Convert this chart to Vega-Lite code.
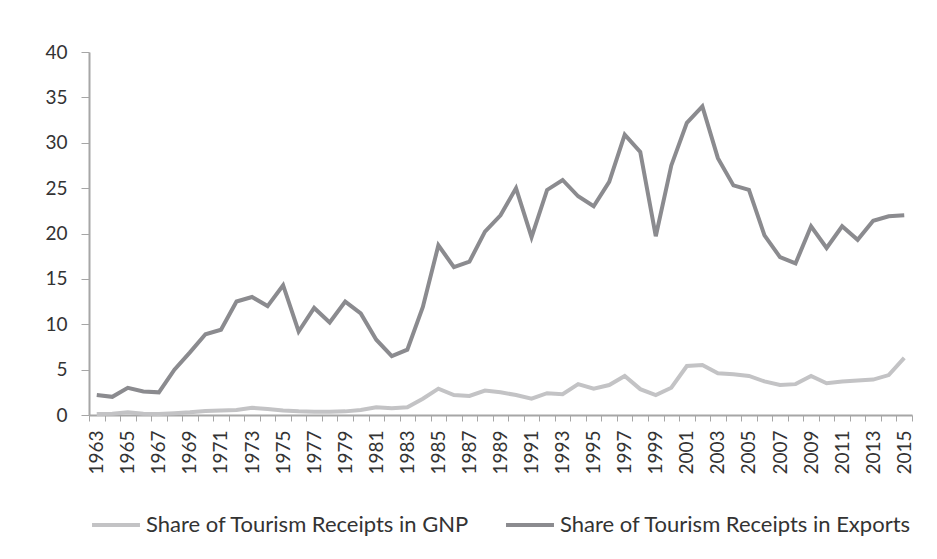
{
  "$schema": "https://vega.github.io/schema/vega-lite/v6.json",
  "width": 823,
  "height": 363,
  "padding": {"left": 44, "top": 43, "right": 20, "bottom": 10},
  "background": "white",
  "config": {
    "view": {"stroke": null},
    "font": "Lato",
    "legend": {"layout": {"bottom": {"anchor": "middle"}}},
    "axis": {
      "grid": false,
      "domainColor": "#a6a6a6",
      "domainWidth": 2,
      "tickColor": "#a6a6a6",
      "tickWidth": 1,
      "labelColor": "#333333",
      "labelFont": "Lato",
      "labelFontSize": 19,
      "title": null
    }
  },
  "data": {
    "values": [
      {"year": "1963", "GNP": 0.1, "Exports": 2.2},
      {"year": "1964", "GNP": 0.15, "Exports": 2.0},
      {"year": "1965", "GNP": 0.3, "Exports": 3.0},
      {"year": "1966", "GNP": 0.15, "Exports": 2.6},
      {"year": "1967", "GNP": 0.1, "Exports": 2.5},
      {"year": "1968", "GNP": 0.2, "Exports": 5.0},
      {"year": "1969", "GNP": 0.3, "Exports": 6.9},
      {"year": "1970", "GNP": 0.45, "Exports": 8.9},
      {"year": "1971", "GNP": 0.5, "Exports": 9.4},
      {"year": "1972", "GNP": 0.55, "Exports": 12.5},
      {"year": "1973", "GNP": 0.8, "Exports": 13.0},
      {"year": "1974", "GNP": 0.65, "Exports": 12.0},
      {"year": "1975", "GNP": 0.5, "Exports": 14.3},
      {"year": "1976", "GNP": 0.4, "Exports": 9.2},
      {"year": "1977", "GNP": 0.35, "Exports": 11.8},
      {"year": "1978", "GNP": 0.35, "Exports": 10.2},
      {"year": "1979", "GNP": 0.4, "Exports": 12.5},
      {"year": "1980", "GNP": 0.55, "Exports": 11.2},
      {"year": "1981", "GNP": 0.85, "Exports": 8.3},
      {"year": "1982", "GNP": 0.75, "Exports": 6.5},
      {"year": "1983", "GNP": 0.85, "Exports": 7.2},
      {"year": "1984", "GNP": 1.8, "Exports": 11.9},
      {"year": "1985", "GNP": 2.9, "Exports": 18.7},
      {"year": "1986", "GNP": 2.2, "Exports": 16.3},
      {"year": "1987", "GNP": 2.1, "Exports": 16.9},
      {"year": "1988", "GNP": 2.7, "Exports": 20.2},
      {"year": "1989", "GNP": 2.5, "Exports": 22.0},
      {"year": "1990", "GNP": 2.2, "Exports": 25.0},
      {"year": "1991", "GNP": 1.8, "Exports": 19.6},
      {"year": "1992", "GNP": 2.4, "Exports": 24.8},
      {"year": "1993", "GNP": 2.3, "Exports": 25.9},
      {"year": "1994", "GNP": 3.4, "Exports": 24.1},
      {"year": "1995", "GNP": 2.9, "Exports": 23.0},
      {"year": "1996", "GNP": 3.3, "Exports": 25.7},
      {"year": "1997", "GNP": 4.3, "Exports": 30.9},
      {"year": "1998", "GNP": 2.85, "Exports": 29.0},
      {"year": "1999", "GNP": 2.2, "Exports": 19.7},
      {"year": "2000", "GNP": 3.0, "Exports": 27.5},
      {"year": "2001", "GNP": 5.4, "Exports": 32.2},
      {"year": "2002", "GNP": 5.5, "Exports": 34.0},
      {"year": "2003", "GNP": 4.6, "Exports": 28.3},
      {"year": "2004", "GNP": 4.5, "Exports": 25.3},
      {"year": "2005", "GNP": 4.3, "Exports": 24.8},
      {"year": "2006", "GNP": 3.7, "Exports": 19.8},
      {"year": "2007", "GNP": 3.3, "Exports": 17.4},
      {"year": "2008", "GNP": 3.4, "Exports": 16.7},
      {"year": "2009", "GNP": 4.3, "Exports": 20.8},
      {"year": "2010", "GNP": 3.5, "Exports": 18.4},
      {"year": "2011", "GNP": 3.7, "Exports": 20.8},
      {"year": "2012", "GNP": 3.8, "Exports": 19.3},
      {"year": "2013", "GNP": 3.9, "Exports": 21.4},
      {"year": "2014", "GNP": 4.4, "Exports": 21.9},
      {"year": "2015", "GNP": 6.3, "Exports": 22.0}
    ]
  },
  "transform": [
    {"fold": ["GNP", "Exports"], "as": ["key", "value"]},
    {"lookup": "key", "from": {"data": {"values": [
      {"key": "GNP", "series": "Share of Tourism Receipts in GNP"},
      {"key": "Exports", "series": "Share of Tourism Receipts in Exports"}
    ]}, "key": "key", "fields": ["series"]}}
  ],
  "mark": {"type": "line", "strokeWidth": 4, "strokeJoin": "miter"},
  "encoding": {
    "x": {
      "field": "year",
      "type": "ordinal",
      "bandPosition": 0.5,
      "scale": {"type": "band", "paddingInner": 0, "paddingOuter": 0},
      "axis": {
        "labelAngle": -90,
        "labelAlign": "right",
        "labelBaseline": "middle",
        "labelExpr": "toNumber(datum.value) % 2 == 1 ? datum.label : ''",
        "labelOverlap": false,
        "tickBand": "extent",
        "tickSize": 6,
        "labelPadding": 9
      }
    },
    "y": {
      "field": "value",
      "type": "quantitative",
      "scale": {"domain": [0, 40]},
      "axis": {"values": [0, 5, 10, 15, 20, 25, 30, 35, 40], "tickSize": 8, "labelPadding": 14, "domain": true}
    },
    "color": {
      "field": "series",
      "type": "nominal",
      "sort": ["Share of Tourism Receipts in GNP", "Share of Tourism Receipts in Exports"],
      "scale": {
        "domain": ["Share of Tourism Receipts in GNP", "Share of Tourism Receipts in Exports"],
        "range": ["#c3c3c5", "#8b8b8f"]
      },
      "legend": {
        "orient": "bottom",
        "direction": "horizontal",
        "title": null,
        "symbolType": "stroke",
        "symbolSize": 2300,
        "symbolStrokeWidth": 4,
        "labelFontSize": 22,
        "labelLimit": 0,
        "labelColor": "#333333",
        "labelFont": "Lato",
        "columnPadding": 28,
        "offset": 24
      }
    }
  }
}
